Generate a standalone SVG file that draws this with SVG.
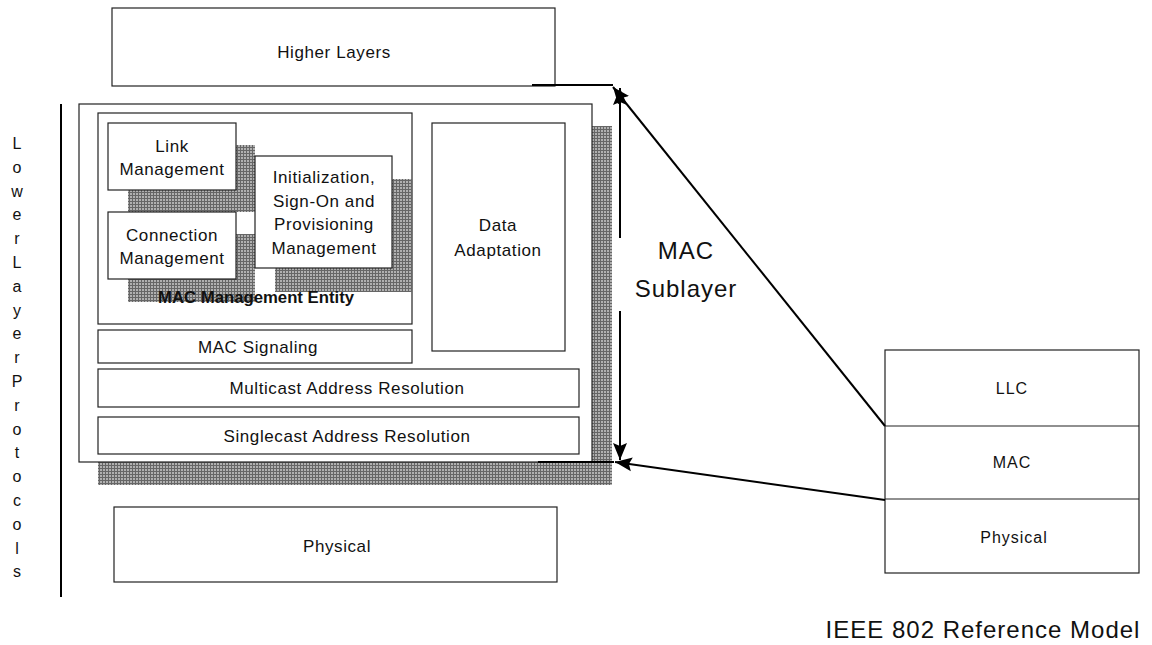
<svg xmlns="http://www.w3.org/2000/svg" width="1152" height="645" viewBox="0 0 1152 645">
<style>
.box{fill:#fff;stroke:#222;stroke-width:1.2}
.sh{fill:url(#dots)}
.t{font-family:"Liberation Sans",Arial,sans-serif;font-size:17px;letter-spacing:0.6px;fill:#111;text-anchor:middle}
.tb{font-family:"Liberation Sans",Arial,sans-serif;font-size:16.5px;font-weight:bold;fill:#111;text-anchor:middle}
.ts{font-family:"Liberation Sans",Arial,sans-serif;font-size:16px;letter-spacing:1px;fill:#111;text-anchor:middle}
.tv{font-family:"Liberation Sans",Arial,sans-serif;font-size:16px;fill:#111;text-anchor:middle}
.tl{font-family:"Liberation Sans",Arial,sans-serif;font-size:24px;letter-spacing:1px;fill:#111;text-anchor:middle}
.c{fill:none;stroke:#000;stroke-width:2}
</style>
<defs>
<pattern id="dots" width="3" height="3" patternUnits="userSpaceOnUse">
<rect width="3" height="3" fill="#b0b0b0"/>
<rect width="3" height="1" fill="#666"/>
<rect width="1" height="3" fill="#666"/>
</pattern>
<marker id="ah" markerUnits="userSpaceOnUse" markerWidth="18" markerHeight="16" refX="17" refY="8" orient="auto">
<path d="M0,1 L17,8 L0,15 L3,8 Z" fill="#000"/>
</marker>
</defs>
<rect width="1152" height="645" fill="#fff"/>

<g id="higher-layers">
<rect class="box" x="112" y="8" width="443" height="78"/>
<text class="t" x="334" y="58">Higher Layers</text>
</g>

<g id="lower-layer-label">
<line x1="61" y1="104" x2="61" y2="597" stroke="#000" stroke-width="2"/>
<text class="tv" x="17" y="149">L<tspan x="17" dy="23.8">o</tspan><tspan x="17" dy="23.8">w</tspan><tspan x="17" dy="23.8">e</tspan><tspan x="17" dy="23.8">r</tspan><tspan x="17" dy="23.8">L</tspan><tspan x="17" dy="23.8">a</tspan><tspan x="17" dy="23.8">y</tspan><tspan x="17" dy="23.8">e</tspan><tspan x="17" dy="23.8">r</tspan><tspan x="17" dy="23.8">P</tspan><tspan x="17" dy="23.8">r</tspan><tspan x="17" dy="23.8">o</tspan><tspan x="17" dy="23.8">t</tspan><tspan x="17" dy="23.8">o</tspan><tspan x="17" dy="23.8">c</tspan><tspan x="17" dy="23.8">o</tspan><tspan x="17" dy="23.8">l</tspan><tspan x="17" dy="23.8">s</tspan></text>
</g>

<g id="mac-sublayer-block">
<rect class="sh" x="98" y="126" width="514" height="359"/>
<rect class="box" x="79" y="104" width="513" height="358"/>
</g>

<g id="mac-management-entity">
<rect class="box" x="98" y="113" width="314" height="211"/>
<rect class="sh" x="128" y="145" width="127" height="67"/>
<rect class="sh" x="128" y="234" width="127" height="68"/>
<rect class="sh" x="275" y="179" width="137" height="113"/>
<text class="tb" x="256" y="303" textLength="196" lengthAdjust="spacingAndGlyphs">MAC Management Entity</text>
</g>

<g id="link-management">
<rect class="box" x="108" y="123" width="128" height="67"/>
<text class="t" x="172" y="152">Link</text>
<text class="t" x="172" y="175">Management</text>
</g>

<g id="connection-management">
<rect class="box" x="108" y="212" width="128" height="67"/>
<text class="t" x="172" y="241">Connection</text>
<text class="t" x="172" y="264">Management</text>
</g>

<g id="initialization">
<rect class="box" x="255" y="156" width="137" height="112"/>
<text class="t" x="324" y="183">Initialization,</text>
<text class="t" x="324" y="206.5">Sign-On and</text>
<text class="t" x="324" y="230">Provisioning</text>
<text class="t" x="324" y="253.5">Management</text>
</g>

<g id="data-adaptation">
<rect class="box" x="432" y="123" width="133" height="228"/>
<text class="t" x="498" y="231">Data</text>
<text class="t" x="498" y="256">Adaptation</text>
</g>

<g id="mac-signaling">
<rect class="box" x="98" y="330" width="314" height="33"/>
<text class="t" x="258" y="353">MAC Signaling</text>
</g>

<g id="multicast">
<rect class="box" x="98" y="369" width="481" height="38"/>
<text class="t" x="347" y="394">Multicast Address Resolution</text>
</g>

<g id="singlecast">
<rect class="box" x="98" y="417" width="481" height="37"/>
<text class="t" x="347" y="442">Singlecast Address Resolution</text>
</g>

<g id="physical">
<rect class="box" x="114" y="507" width="443" height="75"/>
<text class="t" x="337" y="552">Physical</text>
</g>

<g id="mac-sublayer-label">
<text class="tl" x="686" y="259">MAC</text>
<text class="tl" x="686" y="297">Sublayer</text>
</g>

<g id="ieee-802-model">
<rect class="box" x="885" y="350" width="254" height="223"/>
<line x1="885" y1="426" x2="1139" y2="426" stroke="#222" stroke-width="1.2"/>
<line x1="885" y1="499" x2="1139" y2="499" stroke="#222" stroke-width="1.2"/>
<text class="ts" x="1012" y="394">LLC</text>
<text class="ts" x="1012" y="468">MAC</text>
<text class="ts" x="1014" y="543">Physical</text>
</g>

<g id="caption">
<text class="tl" x="983" y="638">IEEE 802 Reference Model</text>
</g>

<g id="connectors">
<line class="c" x1="532" y1="85" x2="613" y2="85"/>
<line class="c" x1="538" y1="462" x2="614" y2="462" stroke-width="2.5"/>
<line class="c" x1="620" y1="238" x2="620" y2="88" marker-end="url(#ah)"/>
<line class="c" x1="620" y1="311" x2="620" y2="460" marker-end="url(#ah)"/>
<line class="c" x1="885" y1="426" x2="613" y2="87" marker-end="url(#ah)"/>
<line class="c" x1="885" y1="500" x2="615" y2="462" marker-end="url(#ah)"/>
</g>
</svg>
